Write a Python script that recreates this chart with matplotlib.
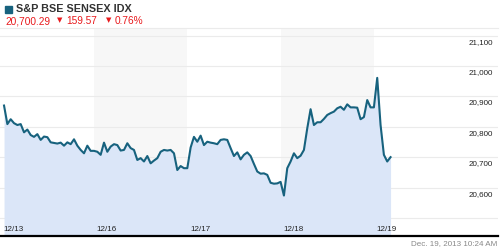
import matplotlib
matplotlib.use("Agg")
import matplotlib.pyplot as plt
from matplotlib.transforms import blended_transform_factory

# ---- data ----
day_labels = ["12/13", "12/16", "12/17", "12/18", "12/19"]
points_per_day = 28
day_1213 = [20870, 20809, 20825, 20812, 20806, 20809, 20782, 20791, 20773, 20767,
            20776, 20757, 20768, 20766, 20749, 20747, 20745, 20748, 20738, 20749,
            20743, 20759, 20738, 20724, 20713, 20738, 20721, 20721]
day_1216 = [20718, 20708, 20748, 20718, 20735, 20743, 20740, 20722, 20724, 20746,
            20730, 20724, 20691, 20697, 20686, 20704, 20680, 20689, 20697, 20718,
            20724, 20722, 20724, 20713, 20658, 20671, 20664, 20664]
day_1217 = [20732, 20767, 20751, 20771, 20740, 20751, 20748, 20746, 20743, 20757,
            20759, 20757, 20730, 20704, 20716, 20693, 20708, 20716, 20704, 20678,
            20653, 20646, 20647, 20642, 20616, 20613, 20614, 20619]
day_1218 = [20574, 20664, 20686, 20713, 20697, 20705, 20724, 20795, 20858, 20806,
            20815, 20815, 20826, 20839, 20845, 20850, 20861, 20866, 20856, 20874,
            20864, 20864, 20863, 20825, 20832, 20888, 20864, 20864]
day_1219 = [20961, 20806, 20708, 20686, 20700.29]
days = [day_1213, day_1216, day_1217, day_1218, day_1219]

y_ticks = [20500, 20600, 20700, 20800, 20900, 21000, 21100]
y_tick_labels = ["", "20,600", "20,700", "20,800", "20,900", "21,000", "21,100"]
title = "S&P BSE SENSEX IDX"
last_value = "20,700.29"
change = "159.57"
change_pct = "0.76%"
timestamp = "Dec. 19, 2013 10:24 AM"

# ---- styles ----
LINE = "#17627e"
FILL = "#dbe6f8"
BAND = "#f7f7f7"
GRID = "#ebebeb"
RED = "#e8191c"
FONT = "Liberation Sans"

xs, ys = [], []
for d, vals in enumerate(days):
    for j, v in enumerate(vals):
        xs.append(d + (j + 1) / points_per_day)
        ys.append(v)

fig = plt.figure(figsize=(5, 2.5), dpi=100)
W, H = 500, 250
ax = fig.add_axes([0, 1 - 236 / H, 498 / W, (236 - 28) / H])
ax.set_xlim(-0.0075, 498 / 93.3 - 0.0075)
ax.set_ylim(20441, 21125)

# alternating day bands
for d in range(len(day_labels)):
    if d % 2 == 1:
        ax.axvspan(d, d + 1, color=BAND, lw=0, zorder=0)

for v in y_ticks:
    ax.axhline(v, color=GRID, lw=0.8, zorder=1)

ax.fill_between(xs, ys, 20441, color=FILL, lw=0, zorder=2)
ax.plot(xs, ys, color=LINE, lw=1.5, zorder=3, solid_joinstyle="round")

for v, lab in zip(y_ticks, y_tick_labels):
    if lab:
        ax.annotate(lab, xy=(0.99, v), xycoords=("axes fraction", "data"),
                    xytext=(0, -3), textcoords="offset pixels",
                    ha="right", va="top", fontsize=5.8, family=FONT, color="#222222",
                    zorder=4)

tr = blended_transform_factory(ax.transData, ax.transAxes)
for d, lab in enumerate(day_labels):
    ax.text(d + 0.03, 0.032, lab, transform=tr, ha="left", va="center",
            fontsize=5.8, family=FONT, color="#222222", zorder=4)

ax.set_xticks([])
ax.set_yticks([])
for s in ["left", "right"]:
    ax.spines[s].set_visible(False)
ax.spines["top"].set_color(GRID)
ax.spines["top"].set_linewidth(0.8)
ax.spines["bottom"].set_color("black")
ax.spines["bottom"].set_linewidth(1.6)
ax.patch.set_alpha(0)

# header
fig.patches.append(plt.Rectangle((5 / W, 1 - 13 / H), 7 / W, 7 / H,
                                 transform=fig.transFigure, color=LINE))
fig.text(16 / W, 1 - 9.5 / H, title, ha="left", va="center", fontsize=7.8,
         fontweight="bold", family=FONT, color="#333333")
fig.text(5 / W, 1 - 21 / H, last_value, ha="left", va="center", fontsize=7.3,
         family=FONT, color=RED)
fig.text(57 / W, 1 - 20 / H, "▼", ha="left", va="center", fontsize=5,
         family="DejaVu Sans", color=RED)
fig.text(66 / W, 1 - 21 / H, change, ha="left", va="center", fontsize=7.3,
         family=FONT, color=RED)
fig.text(106 / W, 1 - 20 / H, "▼", ha="left", va="center", fontsize=5,
         family="DejaVu Sans", color=RED)
fig.text(115 / W, 1 - 21 / H, change_pct, ha="left", va="center", fontsize=7.3,
         family=FONT, color=RED)
fig.text(497 / W, 1 - 244 / H, timestamp, ha="right", va="center", fontsize=5.8,
         family=FONT, color="#888888")

fig.savefig("out.png", dpi=100)
